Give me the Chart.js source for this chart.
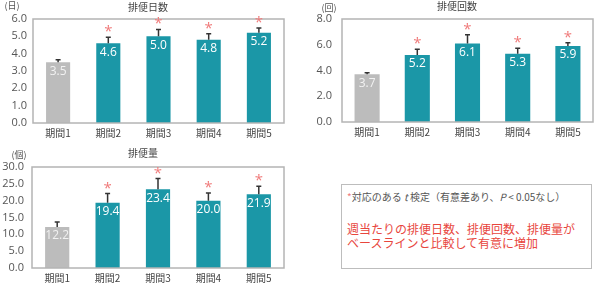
<!DOCTYPE html>
<html>
<head>
<meta charset="utf-8">
<script src="https://cdn.jsdelivr.net/npm/chart.js@4"></script>
<style>
    body { margin: 0; background: #fff; width: 600px; height: 285px; position: relative; overflow: hidden; font-family: "Noto Sans CJK JP", "Noto Sans", sans-serif; }
    canvas { position: absolute; }
    #note {
        position: absolute; left: 341px; top: 184px; width: 249px; height: 83px;
        border: 1.5px solid #bdbdbd; box-sizing: content-box;
    }
    #note .small { position: absolute; left: 5px; top: 4px; font-size: 10px; color: #555; white-space: nowrap; }
    #note .small .star { color: #f07b7b; }
    #note .red { position: absolute; left: 5px; top: 37px; font-size: 12px; line-height: 14px; color: #e8463d; white-space: nowrap; }
</style>
</head>
<body>
<canvas id="daysChart" width="300" height="145" style="left:0;top:0;width:300px;height:145px"></canvas>
<canvas id="countChart" width="300" height="145" style="left:300px;top:0;width:300px;height:145px"></canvas>
<canvas id="amountChart" width="300" height="145" style="left:0;top:140px;width:300px;height:145px"></canvas>
<div id="note">
    <div class="small"><span class="star">*</span>対応のある <i>t</i> 検定（有意差あり、<i>P</i> &lt; 0.05なし）</div>
    <div class="red">週当たりの排便日数、排便回数、排便量が<br>ベースラインと比較して有意に増加</div>
</div>
<script>
const periods = ["期間1", "期間2", "期間3", "期間4", "期間5"];
const significant = [false, true, true, true, true];

const daysValues = [3.5, 4.6, 5.0, 4.8, 5.2];
const daysErrors = [0.15, 0.35, 0.4, 0.35, 0.28];

const countValues = [3.7, 5.2, 6.1, 5.3, 5.9];
const countErrors = [0.13, 0.45, 0.68, 0.42, 0.26];

const amountValues = [12.2, 19.4, 23.4, 20.0, 21.9];
const amountErrors = [1.5, 2.7, 3.15, 2.3, 2.4];

const TEAL = "#1b97a7";
const GRAY = "#bcbcbc";
const NUM_FONT = '"Open Sans", "Noto Sans", sans-serif';
const JP_FONT = '"Noto Sans CJK JP", sans-serif';

// error bars, asterisks, value labels, frame and titles
const decorPlugin = {
    id: "decor",
    afterDatasetsDraw(chart, args, opts) {
        const ctx = chart.ctx;
        const meta = chart.getDatasetMeta(0);
        const y = chart.scales.y;
        const values = chart.data.datasets[0].data;
        const area = chart.chartArea;

        ctx.save();
        ctx.strokeStyle = "#b4b4b4";
        ctx.lineWidth = 1.5;
        ctx.strokeRect(area.left, area.top, area.right - area.left, area.bottom - area.top);

        meta.data.forEach((bar, i) => {
            const top = y.getPixelForValue(values[i] + opts.errors[i]);
            ctx.strokeStyle = "#333";
            ctx.lineWidth = 1.5;
            ctx.beginPath();
            ctx.moveTo(bar.x, bar.y);
            ctx.lineTo(bar.x, top);
            ctx.moveTo(bar.x - 2.5, top);
            ctx.lineTo(bar.x + 2.5, top);
            ctx.stroke();

            if (significant[i]) {
                ctx.fillStyle = "#f07b7b";
                ctx.font = "15px " + NUM_FONT;
                ctx.textAlign = "center";
                ctx.textBaseline = "alphabetic";
                ctx.fillText("*", bar.x, top - 1);
            }

            ctx.fillStyle = i === 0 ? "#f2f2f2" : "#ffffff";
            ctx.font = "12px " + NUM_FONT;
            ctx.textAlign = "center";
            ctx.textBaseline = "middle";
            ctx.fillText(values[i].toFixed(1), bar.x, bar.y + 9);
        });

        ctx.fillStyle = "#444";
        ctx.font = "10px " + JP_FONT;
        ctx.textAlign = "center";
        ctx.textBaseline = "middle";
        ctx.fillText(opts.title, opts.titleX, opts.titleY);
        ctx.font = "9px " + JP_FONT;
        ctx.fillStyle = "#555";
        ctx.fillText(opts.unit, opts.unitX, opts.unitY);
        ctx.restore();
    }
};

function makeChart(id, values, errors, opt) {
    return new Chart(document.getElementById(id), {
        type: "bar",
        data: {
            labels: periods,
            datasets: [{
                data: values,
                backgroundColor: values.map((v, i) => i === 0 ? GRAY : TEAL),
                categoryPercentage: 1,
                barPercentage: opt.barPct,
                borderWidth: 0
            }]
        },
        options: {
            responsive: false,
            animation: false,
            layout: { padding: { top: opt.top, right: opt.right, left: 0, bottom: 0 } },
            plugins: {
                legend: { display: false },
                tooltip: { enabled: false },
                decor: {
                    errors: errors,
                    title: opt.title, titleX: opt.titleX, titleY: opt.titleY,
                    unit: opt.unit, unitX: opt.unitX, unitY: opt.unitY
                }
            },
            scales: {
                x: {
                    grid: { display: false, drawTicks: false },
                    border: { display: false },
                    ticks: { color: "#444", font: { size: 10, family: JP_FONT }, padding: 4 },
                    afterFit: scale => { scale.height = opt.xHeight; }
                },
                y: {
                    min: 0,
                    max: opt.max,
                    grid: { display: false, drawTicks: false },
                    border: { display: false },
                    ticks: {
                        stepSize: opt.step,
                        color: "#555",
                        padding: opt.tickPad,
                        font: { size: 11, family: NUM_FONT },
                        callback: v => Number(v).toFixed(1)
                    },
                    afterFit: scale => { scale.width = opt.left; }
                }
            }
        },
        plugins: [decorPlugin]
    });
}

makeChart("daysChart", daysValues, daysErrors, {
    max: 6, step: 1, left: 33, right: 16, top: 19, xHeight: 22, tickPad: 6, barPct: 0.48,
    title: "排便日数", titleX: 148, titleY: 7, unit: "(日)", unitX: 12, unitY: 6
});

makeChart("countChart", countValues, countErrors, {
    max: 8, step: 2, left: 42, right: 7, top: 19, xHeight: 23, tickPad: 10, barPct: 0.5,
    title: "排便回数", titleX: 157, titleY: 6, unit: "(回)", unitX: 29, unitY: 8
});

makeChart("amountChart", amountValues, amountErrors, {
    max: 30, step: 5, left: 32, right: 16, top: 27, xHeight: 17, tickPad: 8, barPct: 0.48,
    title: "排便量", titleX: 143, titleY: 13, unit: "(個)", unitX: 19, unitY: 15
});
</script>
</body>
</html>
